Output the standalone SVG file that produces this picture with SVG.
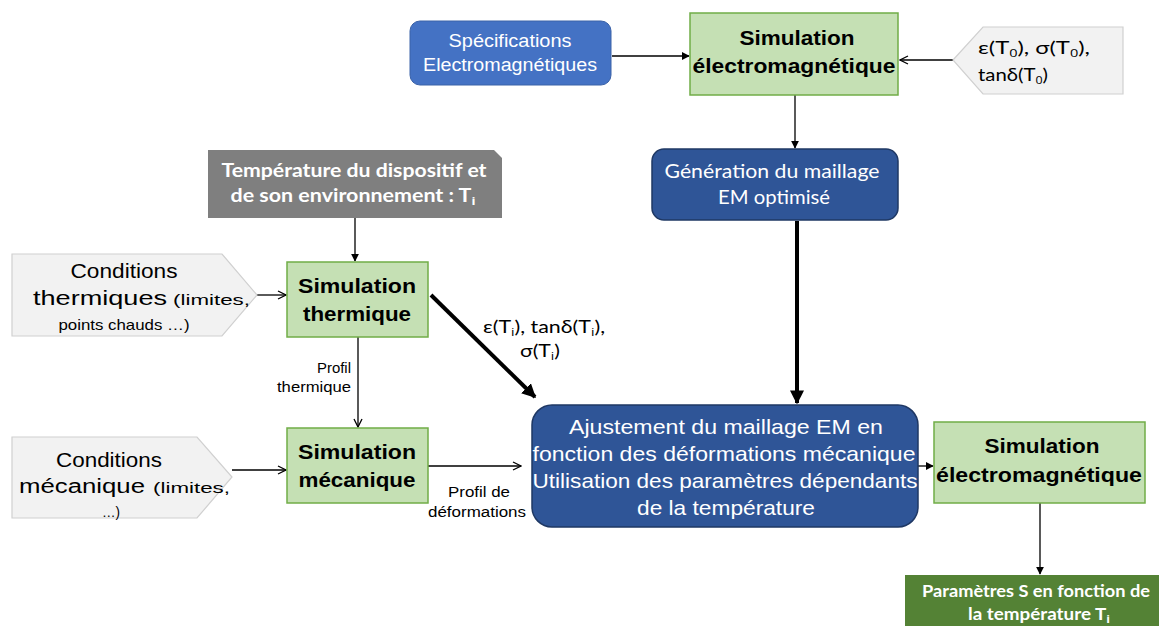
<svg xmlns="http://www.w3.org/2000/svg" width="1159" height="626" viewBox="0 0 1159 626">
<defs>
<marker id="tri" viewBox="0 0 10 10" refX="9" refY="5" markerWidth="8" markerHeight="8" markerUnits="userSpaceOnUse" orient="auto"><path d="M0,0 L10,5 L0,10 z" fill="#000"/></marker>
<marker id="open" viewBox="0 0 10 10" refX="9" refY="5" markerWidth="10" markerHeight="10" markerUnits="userSpaceOnUse" orient="auto"><path d="M1,1 L9,5 L1,9" fill="none" stroke="#000" stroke-width="1.3"/></marker>
<marker id="big" viewBox="0 0 10 10" refX="9" refY="5" markerWidth="14" markerHeight="14" markerUnits="userSpaceOnUse" orient="auto"><path d="M0,0 L10,5 L0,10 z" fill="#000"/></marker>
</defs>
<style>
.green{fill:#C5E0B4;stroke:#70AD47;stroke-width:1.5}
.blue{fill:#2F5597;stroke:#1F3864;stroke-width:1.5}
.cond{fill:#F2F2F2;stroke:#D0D0D0;stroke-width:1.2}
.gb{font-family:"Liberation Sans",Arial,sans-serif;font-weight:bold;font-size:20px;fill:#000;text-anchor:middle}
.ar{font-family:"Liberation Sans",Arial,sans-serif;fill:#000;text-anchor:middle}
.st{text-anchor:start}
.en{text-anchor:end}
.wt{font-family:"Liberation Sans",Arial,sans-serif;fill:#fff;text-anchor:middle}
.cal{font-family:Lato,"Open Sans",sans-serif}
.sub{font-family:"Open Sans","Liberation Sans",sans-serif}
.ln{stroke:#000;stroke-width:1.3;fill:none}
.thick{stroke:#000;stroke-width:4;fill:none}
</style>
<rect width="1159" height="626" fill="#fff"/>
<g id="connectors">
<line class="ln" x1="612" y1="56" x2="689" y2="56" marker-end="url(#tri)"/>
<line class="ln" x1="953" y1="60" x2="900" y2="60" marker-end="url(#open)"/>
<line class="ln" x1="795" y1="95" x2="795" y2="148" marker-end="url(#tri)"/>
<line class="thick" x1="797" y1="221" x2="797" y2="403" marker-end="url(#big)"/>
<line class="ln" x1="355" y1="218" x2="355" y2="261" marker-end="url(#tri)"/>
<line class="ln" x1="257" y1="295" x2="286" y2="295" marker-end="url(#open)"/>
<line class="ln" x1="358" y1="337" x2="358" y2="427" marker-end="url(#open)"/>
<line class="ln" x1="232" y1="470" x2="286" y2="470" marker-end="url(#open)"/>
<line class="ln" x1="428" y1="466" x2="521" y2="466" marker-end="url(#open)"/>
<line class="thick" x1="431" y1="295" x2="535" y2="397" marker-end="url(#big)"/>
<line class="ln" x1="918" y1="466" x2="933" y2="466" marker-end="url(#tri)"/>
<line class="ln" x1="1040" y1="503" x2="1040" y2="574" marker-end="url(#tri)"/>
<text class="ar en" font-size="14" x="351" y="373" textLength="34" lengthAdjust="spacingAndGlyphs">Profil</text>
<text class="ar en" font-size="14" x="351" y="392" textLength="74" lengthAdjust="spacingAndGlyphs">thermique</text>
<text class="ar" font-size="14" x="479" y="497" textLength="62" lengthAdjust="spacingAndGlyphs">Profil de</text>
<text class="ar" font-size="14" x="477" y="517" textLength="98" lengthAdjust="spacingAndGlyphs">déformations</text>
<text class="ar cal" font-size="17" x="544" y="333" textLength="122" lengthAdjust="spacingAndGlyphs">ε(T<tspan class="sub" font-size="11" dy="3">i</tspan><tspan dy="-3">), tanδ(T</tspan><tspan class="sub" font-size="11" dy="3">i</tspan><tspan dy="-3">),</tspan></text>
<text class="ar cal" font-size="17" x="540" y="357" textLength="40" lengthAdjust="spacingAndGlyphs">σ(T<tspan class="sub" font-size="11" dy="3">i</tspan><tspan dy="-3">)</tspan></text>
</g>
<g id="spec">
<rect x="410" y="21" width="201" height="64" rx="10" fill="#4472C4" stroke="#3A62A8" stroke-width="1"/>
<text class="wt" font-size="18" x="510" y="47" textLength="123" lengthAdjust="spacingAndGlyphs">Spécifications</text>
<text class="wt" font-size="18" x="510" y="71" textLength="174" lengthAdjust="spacingAndGlyphs">Electromagnétiques</text>
</g>
<g id="simem1">
<rect class="green" x="690" y="13" width="208" height="82"/>
<text class="gb" x="797" y="45" textLength="115" lengthAdjust="spacingAndGlyphs">Simulation</text>
<text class="gb" x="794" y="73" textLength="203" lengthAdjust="spacingAndGlyphs">électromagnétique</text>
</g>
<g id="eps0">
<polygon class="cond" points="953,60 983,27 1123,27 1123,94 983,94"/>
<text class="ar cal st" font-size="18" x="978" y="54" textLength="112" lengthAdjust="spacingAndGlyphs">ε(T<tspan class="sub" font-size="11" dy="3">0</tspan><tspan dy="-3">), σ(T</tspan><tspan class="sub" font-size="11" dy="3">0</tspan><tspan dy="-3">),</tspan></text>
<text class="ar cal st" font-size="18" x="978" y="81" textLength="70" lengthAdjust="spacingAndGlyphs">tanδ(T<tspan class="sub" font-size="11" dy="3">0</tspan><tspan dy="-3">)</tspan></text>
</g>
<g id="generation">
<rect class="blue" x="652" y="149" width="246" height="71" rx="12"/>
<text class="wt cal" font-size="19" x="772" y="178" textLength="215" lengthAdjust="spacingAndGlyphs">Génération du maillage</text>
<text class="wt cal" font-size="19" x="774" y="204" textLength="112" lengthAdjust="spacingAndGlyphs">EM optimisé</text>
</g>
<g id="temperature">
<polygon points="208,150 494,150 502,158 502,218 208,218" fill="#7F7F7F"/>
<text class="wt cal" font-size="18" font-weight="bold" x="354" y="177" textLength="265" lengthAdjust="spacingAndGlyphs">Température du dispositif et</text>
<text class="wt cal" font-size="18" font-weight="bold" x="353" y="202" textLength="245" lengthAdjust="spacingAndGlyphs">de son environnement : T<tspan class="sub" font-size="11" dy="3">i</tspan></text>
</g>
<g id="condtherm">
<polygon class="cond" points="12,254 222,254 257,295 222,336 12,336"/>
<text class="ar" font-size="20" x="124" y="278" textLength="107" lengthAdjust="spacingAndGlyphs">Conditions</text>
<text class="ar st" font-size="20" x="33" y="305" textLength="134" lengthAdjust="spacingAndGlyphs">thermiques</text>
<text class="ar st" font-size="15" x="173" y="305" textLength="77" lengthAdjust="spacingAndGlyphs">(limites,</text>
<text class="ar" font-size="15" x="124" y="330" textLength="131" lengthAdjust="spacingAndGlyphs">points chauds …)</text>
</g>
<g id="simtherm">
<rect class="green" x="287" y="262" width="141" height="75"/>
<text class="gb" x="357" y="293" textLength="118" lengthAdjust="spacingAndGlyphs">Simulation</text>
<text class="gb" x="357" y="321" textLength="108" lengthAdjust="spacingAndGlyphs">thermique</text>
</g>
<g id="condmeca">
<polygon class="cond" points="12,437 197,437 232,477 197,518 12,518"/>
<text class="ar" font-size="20" x="109" y="467" textLength="106" lengthAdjust="spacingAndGlyphs">Conditions</text>
<text class="ar st" font-size="20" x="19" y="493" textLength="126" lengthAdjust="spacingAndGlyphs">mécanique</text>
<text class="ar st" font-size="15" x="153" y="493" textLength="77" lengthAdjust="spacingAndGlyphs">(limites,</text>
<text class="ar" font-size="15" x="111" y="517" textLength="18" lengthAdjust="spacingAndGlyphs">…)</text>
</g>
<g id="simmeca">
<rect class="green" x="287" y="428" width="141" height="75"/>
<text class="gb" x="357" y="459" textLength="118" lengthAdjust="spacingAndGlyphs">Simulation</text>
<text class="gb" x="357" y="487" textLength="117" lengthAdjust="spacingAndGlyphs">mécanique</text>
</g>
<g id="ajustement">
<rect class="blue" x="532" y="405" width="386" height="122" rx="20"/>
<text class="wt" font-size="21" x="726" y="434" textLength="314" lengthAdjust="spacingAndGlyphs">Ajustement du maillage EM  en</text>
<text class="wt" font-size="21" x="724" y="461" textLength="383" lengthAdjust="spacingAndGlyphs">fonction des déformations mécanique</text>
<text class="wt" font-size="21" x="725" y="488" textLength="385" lengthAdjust="spacingAndGlyphs">Utilisation des paramètres dépendants</text>
<text class="wt" font-size="21" x="726" y="515" textLength="178" lengthAdjust="spacingAndGlyphs">de la température</text>
</g>
<g id="simem2">
<rect class="green" x="934" y="422" width="211" height="81"/>
<text class="gb" x="1042" y="453" textLength="115" lengthAdjust="spacingAndGlyphs">Simulation</text>
<text class="gb" x="1039" y="482" textLength="206" lengthAdjust="spacingAndGlyphs">électromagnétique</text>
</g>
<g id="parametres">
<rect x="905" y="575" width="254" height="51" fill="#548235"/>
<text class="wt cal" font-size="17" font-weight="bold" x="1036" y="597" textLength="228" lengthAdjust="spacingAndGlyphs">Paramètres S en fonction de</text>
<text class="wt cal" font-size="17" font-weight="bold" x="1039" y="620" textLength="142" lengthAdjust="spacingAndGlyphs">la température T<tspan class="sub" font-size="11" dy="3">i</tspan></text>
</g>
</svg>
